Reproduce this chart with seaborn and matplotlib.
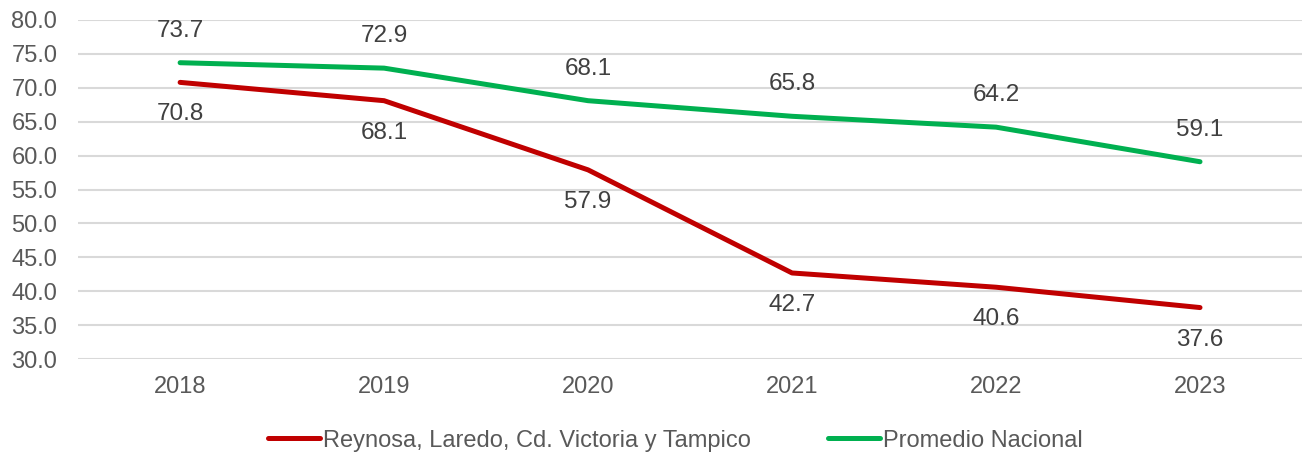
import matplotlib
matplotlib.use('Agg')
import matplotlib.pyplot as plt
import seaborn as sns
import pandas as pd

# Data
years = ['2018', '2019', '2020', '2021', '2022', '2023']
region = [70.8, 68.1, 57.9, 42.7, 40.6, 37.6]
nacional = [73.7, 72.9, 68.1, 65.8, 64.2, 59.1]
region_name = 'Reynosa, Laredo, Cd. Victoria y Tampico'
nacional_name = 'Promedio Nacional'

df = pd.DataFrame({'Año': years * 2,
                   'Valor': region + nacional,
                   'Serie': [region_name] * 6 + [nacional_name] * 6})

sns.set_style('white')
plt.rcParams['font.family'] = ['Liberation Sans', 'DejaVu Sans']
txt = '#595959'

fig = plt.figure(figsize=(13.02, 4.54), dpi=100)
ax = fig.add_axes([0.06, 0.209, 0.94, 0.747])

sns.lineplot(data=df, x='Año', y='Valor', hue='Serie', sort=False,
             palette={region_name: '#C00000', nacional_name: '#00B050'},
             linewidth=3.6, ax=ax)

# data labels
for i, v in enumerate(region):
    ax.annotate(f'{v:.1f}', (i, v), xytext=(0, -23), textcoords='offset points',
                ha='center', va='center', fontsize=17.5, color='#404040')
for i, v in enumerate(nacional):
    ax.annotate(f'{v:.1f}', (i, v), xytext=(0, 23), textcoords='offset points',
                ha='center', va='center', fontsize=17.5, color='#404040')

ax.set_ylim(30, 80)
ax.set_yticks([30 + 5 * k for k in range(11)])
ax.set_yticklabels([f'{30 + 5 * k:.1f}' for k in range(11)])
ax.set_xlim(-0.5, 5.5)
ax.yaxis.grid(True, color='#d9d9d9', linewidth=1.5)
ax.set_axisbelow(True)
for s in ax.spines.values():
    s.set_visible(False)
ax.tick_params(axis='both', length=0, labelsize=17, labelcolor=txt)
ax.tick_params(axis='y', pad=15)
ax.tick_params(axis='x', pad=12)
ax.set_xlabel('')
ax.set_ylabel('')

ax.legend(loc='center', bbox_to_anchor=(0.488, -0.24), ncol=2, frameon=False,
          fontsize=17, labelcolor=txt, handlelength=2.2, handletextpad=0.1,
          columnspacing=3.3)

fig.savefig('out.png', dpi=100)
